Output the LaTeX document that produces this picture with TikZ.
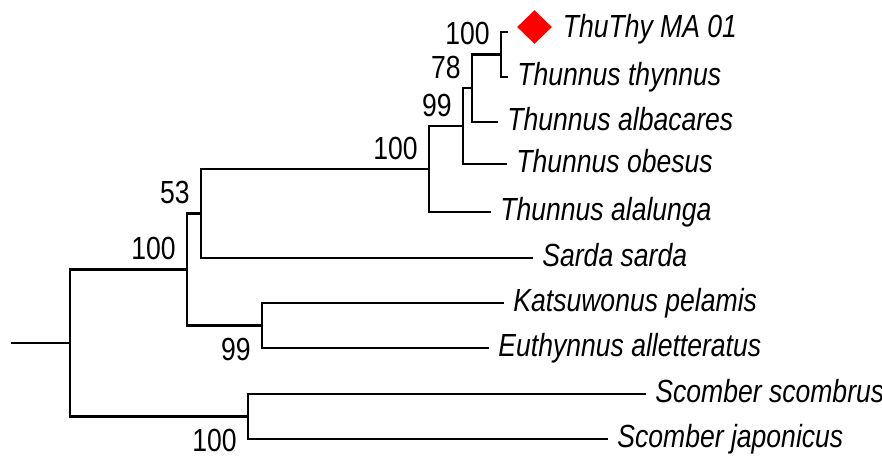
\documentclass[tikz,border=0pt]{standalone}
\usepackage{fontspec}
\newfontfamily\treefont[FakeStretch=0.83]{Liberation Sans}
\usetikzlibrary{positioning,shapes.geometric}

\begin{document}
\begin{tikzpicture}[
  x=0.5pt, y=-0.5pt,
  branch/.style={line width=1.1pt, line cap=rect},
  leaf/.style={font=\treefont\itshape\fontsize{16}{18}\selectfont, inner sep=0pt, text height=11pt, text depth=3pt},
  bsup/.style={font=\treefont\fontsize{16}{18}\selectfont, inner sep=0pt, anchor=south east, xshift=-5.5pt, yshift=4.5pt},
  bsdown/.style={font=\treefont\fontsize{16}{18}\selectfont, inner sep=0pt, anchor=north east, xshift=-5.5pt, yshift=-6pt},
  hit/.style={diamond, fill=red, inner sep=0pt, minimum width=17.5pt, minimum height=17pt}
]
\useasboundingbox (0,0) rectangle (882,455);
\coordinate (l1) at (507,32);
\coordinate (l2) at (507,77);
\coordinate (l3) at (497,122);
\coordinate (l4) at (506,164);
\coordinate (l5) at (490,212);
\coordinate (l6) at (532,258);
\coordinate (l7) at (503,303);
\coordinate (l8) at (488,348);
\coordinate (l9) at (645,394);
\coordinate (l10) at (607,439);
\coordinate (n1) at (501,54.5);
\coordinate (n2) at (472,88);
\coordinate (n3) at (463,126);
\coordinate (n4) at (429,169);
\coordinate (n5) at (201,213.5);
\coordinate (n6) at (262,325.5);
\coordinate (n7) at (187,269.5);
\coordinate (n8) at (248,416.5);
\coordinate (n9) at (70,343);
\coordinate (r0) at (12,343);
\draw[branch] (l1) -| (n1) |- (l2);
\draw[branch] (n1) -| (n2) |- (l3);
\draw[branch] (n2) -| (n3) |- (l4);
\draw[branch] (n3) -| (n4) |- (l5);
\draw[branch] (n4) -| (n5) |- (l6);
\draw[branch] (l7) -| (n6) |- (l8);
\draw[branch] (n5) -| (n7) |- (n6);
\draw[branch] (l9) -| (n8) |- (l10);
\draw[branch] (n7) -| (n9) |- (n8);
\draw[branch] (r0) -- (n9);
\node[hit] (dia) at (534.5,27) {};
\node[leaf, right=5pt of dia, yshift=-1pt] (t1) {ThuThy MA 01};
\node[leaf, right=5pt of l2] (t2) {Thunnus thynnus};
\node[leaf, right=5pt of l3] (t3) {Thunnus albacares};
\node[leaf, right=5pt of l4] (t4) {Thunnus obesus};
\node[leaf, right=5pt of l5] (t5) {Thunnus alalunga};
\node[leaf, right=5pt of l6] (t6) {Sarda sarda};
\node[leaf, right=5pt of l7] (t7) {Katsuwonus pelamis};
\node[leaf, right=5pt of l8] (t8) {Euthynnus alletteratus};
\node[leaf, right=5pt of l9] (t9) {Scomber scombrus};
\node[leaf, right=5pt of l10] (t10) {Scomber japonicus};
\node[bsup] (b1) at (n1) {100};
\node[bsup] (b2) at (n2) {78};
\node[bsup] (b3) at (n3) {99};
\node[bsup] (b4) at (n4) {100};
\node[bsup] (b5) at (n5) {53};
\node[bsup] (b7) at (n7) {100};
\node[bsdown] (b6) at (n6) {99};
\node[bsdown] (b8) at (n8) {100};
\end{tikzpicture}
\end{document}
